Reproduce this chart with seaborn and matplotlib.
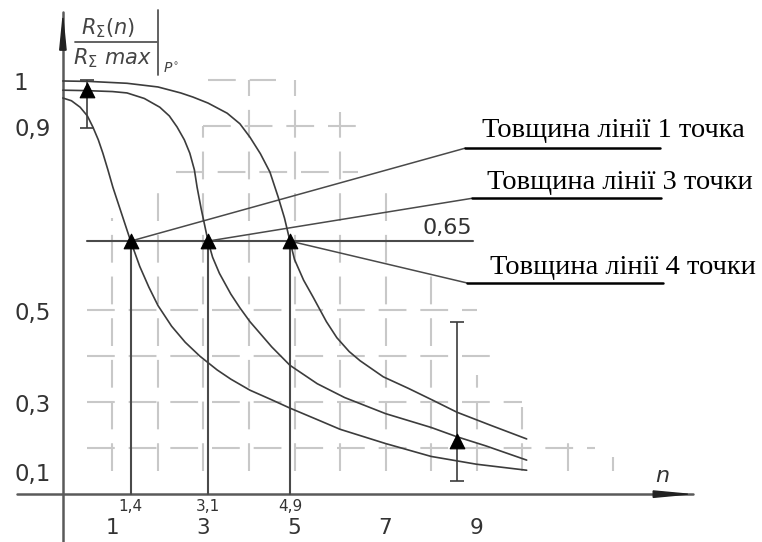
import numpy as np
import pandas as pd
import matplotlib
matplotlib.use('Agg')
import matplotlib.pyplot as plt
import seaborn as sns

# curves: n vs R(n)/Rmax
n_thin = [-0.09, 0.1, 0.29, 0.45, 0.57, 0.69, 0.79, 0.9, 1.01, 1.2, 1.4, 1.6, 1.8, 2.0, 2.3, 2.6,
          2.92, 3.3, 3.6, 4.02, 4.5, 4.9, 5.5, 6.0, 7.0, 8.0, 9.0, 10.1]
r_thin = [0.961, 0.955, 0.941, 0.922, 0.898, 0.87, 0.841, 0.805, 0.767, 0.71, 0.65, 0.595, 0.55, 0.51,
          0.465, 0.43, 0.40, 0.37, 0.35, 0.326, 0.305, 0.287, 0.262, 0.241, 0.21, 0.182, 0.165, 0.152]

n_mid = [-0.09, 0.44, 1.0, 1.32, 1.7, 2.04, 2.25, 2.42, 2.58, 2.7, 2.8, 2.86, 2.95, 3.1, 3.2, 3.35,
         3.6, 3.8, 4.02, 4.5, 4.9, 5.5, 6.1, 7.0, 8.0, 8.56, 9.2, 10.1]
r_mid = [0.978, 0.977, 0.975, 0.972, 0.96, 0.941, 0.922, 0.898, 0.87, 0.841, 0.805, 0.767, 0.72, 0.65,
         0.615, 0.58, 0.535, 0.505, 0.475, 0.42, 0.38, 0.34, 0.31, 0.275, 0.245, 0.225, 0.205, 0.174]

n_thick = [-0.09, 0.5, 1.32, 2.0, 2.5, 2.77, 3.1, 3.52, 3.8, 4.02, 4.25, 4.46, 4.64, 4.78, 4.9, 5.0,
           5.2, 5.41, 5.7, 5.93, 6.2, 6.44, 6.95, 7.5, 8.04, 8.57, 9.3, 10.1]
r_thick = [0.998, 0.997, 0.993, 0.985, 0.972, 0.963, 0.95, 0.928, 0.905, 0.876, 0.84, 0.80, 0.746, 0.70,
           0.65, 0.61, 0.565, 0.528, 0.475, 0.44, 0.41, 0.39, 0.355, 0.33, 0.304, 0.278, 0.25, 0.22]

series_names = ['Товщина лінії 1 точка', 'Товщина лінії 3 точки', 'Товщина лінії 4 точки']

level = 0.65
n_cut = [1.4, 3.1, 4.9]
cut_labels = ['1,4', '3,1', '4,9']

err_n = [0.44, 8.56]
err_mid = [0.978, 0.215]
err_lo = [0.895, 0.128]
err_hi = [1.0, 0.474]

ytick_vals = [1.0, 0.9, 0.5, 0.3, 0.1]
ytick_labels = ['1', '0,9', '0,5', '0,3', '0,1']
xtick_vals = [1, 3, 5, 7, 9]

df = pd.concat([
    pd.DataFrame({'n': n_thin, 'r': r_thin, 'curve': series_names[0]}),
    pd.DataFrame({'n': n_mid, 'r': r_mid, 'curve': series_names[1]}),
    pd.DataFrame({'n': n_thick, 'r': r_thick, 'curve': series_names[2]}),
])

sns.set_theme(style='white')
plt.rcParams['font.family'] = ['DejaVu Sans']
plt.rcParams['lines.scale_dashes'] = False
plt.rcParams['mathtext.fontset'] = 'dejavusans'

fig = plt.figure(figsize=(7.62, 5.42), dpi=100)
ax = fig.add_axes([0, 0, 1, 1])
ax.set_xlim(-1.47, 15.27)
ax.set_ylim(-0.004, 1.174)
ax.axis('off')

# patchy dashed grid
grid_kw = dict(color='#c8c8c8', lw=1.5, ls=(0, (20, 10)), zorder=1)
vgrid = {1: (0.15, 0.70), 2: (0.15, 0.76), 3: (0.15, 0.90), 4: (0.15, 1.0), 5: (0.15, 1.0),
         6: (0.15, 0.93), 7: (0.15, 0.78), 8: (0.15, 0.58), 9: (0.15, 0.36), 10: (0.15, 0.29),
         11: (0.15, 0.23), 12: (0.15, 0.18)}
for k, (lo, hi) in vgrid.items():
    ax.plot([k, k], [lo, hi], **grid_kw)
hgrid = {1.0: (3.1, 4.6), 0.9: (3.0, 6.4), 0.8: (2.4, 6.4), 0.5: (0.45, 9.0),
         0.4: (0.45, 9.5), 0.3: (0.45, 10.0), 0.2: (0.45, 11.6)}
for yv, (lo, hi) in hgrid.items():
    ax.plot([lo, hi], [yv, yv], **grid_kw)

# curves
sns.lineplot(data=df, x='n', y='r', hue='curve', sort=False, estimator=None,
             palette=['#3c3c3c'] * 3, lw=1.2, legend=False, ax=ax, zorder=3)

# axes with arrows
ax_col = '#5a5a5a'
ax.plot([-0.088, -0.088], [-0.004, 1.148], color=ax_col, lw=1.8, zorder=2)
ax.plot([-1.1, 13.76], [0.1, 0.1], color=ax_col, lw=1.8, zorder=2)
ax.fill([-0.088 - 0.07, -0.088 + 0.07, -0.088], [1.065, 1.065, 1.135], color='#222', zorder=4)
ax.fill([12.88, 12.88, 13.64], [0.1 - 0.007, 0.1 + 0.007, 0.1], color='#222', zorder=4)

# 0.65 level and verticals
ax.plot([0.44, 8.92], [level, level], color='#4a4a4a', lw=1.5, zorder=2)
for xc, lab in zip(n_cut, cut_labels):
    ax.plot([xc, xc], [0.1, level], color='#4a4a4a', lw=1.5, zorder=2)
    ax.text(xc, 0.09, lab, ha='center', va='top', fontsize=11, color='#333')
ax.text(8.35, 0.678, '0,65', ha='center', va='center', fontsize=16, color='#333')

# markers and error bars
ax.errorbar(err_n, err_mid, yerr=[np.array(err_mid) - err_lo, np.array(err_hi) - err_mid],
            fmt='none', ecolor='#3c3c3c', elinewidth=1.2, capsize=5, capthick=1.2, zorder=4)
sns.scatterplot(x=n_cut + err_n, y=[level] * 3 + err_mid, marker='^', s=110,
                color='black', edgecolor='black', ax=ax, zorder=5)

# leader lines to labels
ends = [(8.75, 0.852), (8.90, 0.743), (8.79, 0.559)]
ul_end = [13.03, 13.05, 13.10]
txt_pos = [(9.12, 0.876), (9.23, 0.763), (9.30, 0.578)]
for xc, (ex, ey), ue, (tx, ty), name in zip(n_cut, ends, ul_end, txt_pos, series_names):
    ax.plot([xc, ex], [level, ey], color='#4a4a4a', lw=1.1, zorder=2)
    ax.plot([ex, ue], [ey, ey], color='black', lw=1.8, zorder=2)
    ax.text(tx, ty, name, ha='left', va='baseline', fontsize=20.5,
            family='Liberation Serif', color='black')

# tick labels
for yv, lab in zip(ytick_vals, ytick_labels):
    xpos = -1.01 if lab == '1' else -0.75
    ypos = yv + (0.043 if yv == 0.1 else -0.008)
    ax.text(xpos, ypos, lab, ha='center', va='center', fontsize=16.5, color='#333')
for xv in xtick_vals:
    ax.text(xv, 0.048, str(xv), ha='center', va='top', fontsize=15.5, color='#333')

ax.text(13.08, 0.14, 'n', ha='center', va='center', fontsize=16, style='italic', color='#333')

# y-axis caption as a fraction
ax.text(0.90, 1.113, r'$R_{\Sigma}(n)$', ha='center', va='center', fontsize=15, color='#444')
ax.plot([0.18, 1.98], [1.083, 1.083], color='#555', lw=1.3)
ax.text(0.99, 1.048, r'$R_{\Sigma}\ max$', ha='center', va='center', fontsize=15, color='#444')
ax.plot([2.0, 2.0], [1.011, 1.152], color='#555', lw=1.3)
ax.text(2.28, 1.024, r'$P^{\circ}$', ha='center', va='center', fontsize=10, color='#444')

fig.savefig('out.png', dpi=100)
